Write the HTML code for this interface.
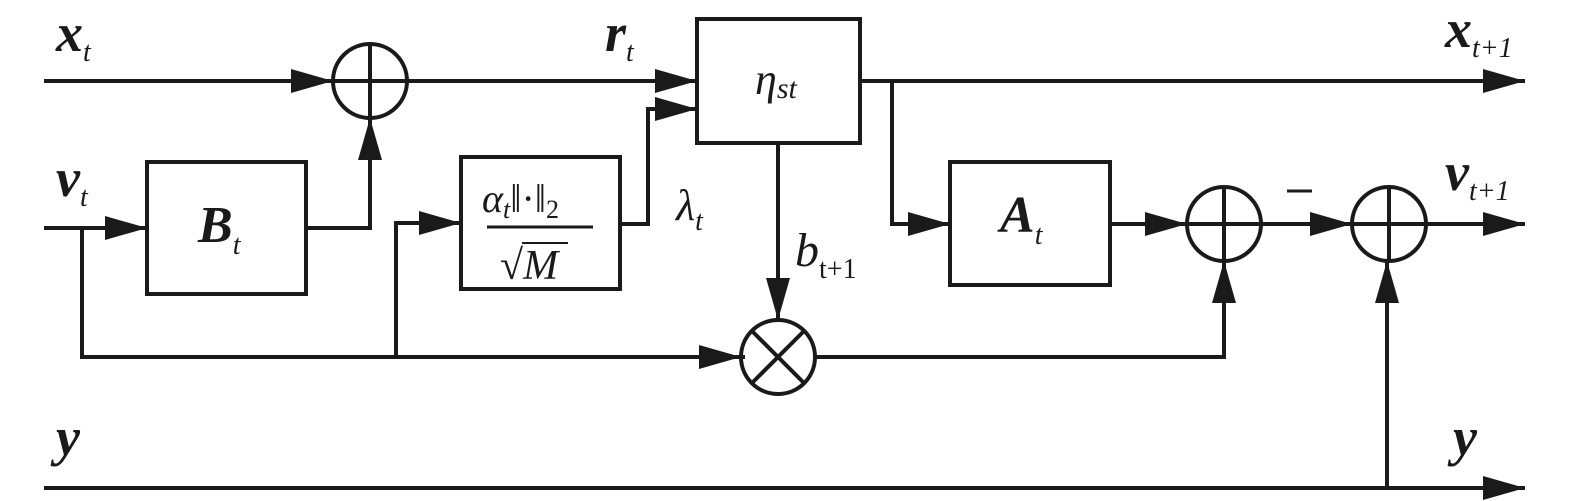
<!DOCTYPE html>
<html><head><meta charset="utf-8"><style>body{margin:0;background:#fff}svg{display:block}</style></head>
<body>
<svg width="1575" height="501" viewBox="0 0 1575 501" xmlns="http://www.w3.org/2000/svg">
<defs>
<marker id="a" markerWidth="42" markerHeight="24" refX="42" refY="12" orient="auto" markerUnits="userSpaceOnUse">
<path d="M0,0 L42,12 L0,24 Z" fill="#1a1a1a"/></marker>
</defs>
<g stroke="#1a1a1a" stroke-width="4" fill="none">
<!-- x line -->
<line x1="44" y1="81" x2="333" y2="81" marker-end="url(#a)"/>
<circle cx="370" cy="81" r="37"/>
<line x1="333" y1="81" x2="407" y2="81"/><line x1="370" y1="44" x2="370" y2="118"/>
<line x1="407" y1="81" x2="697" y2="81" marker-end="url(#a)"/>
<rect x="697" y="19" width="163" height="124"/>
<line x1="860" y1="81" x2="1525" y2="81" marker-end="url(#a)"/>
<!-- v line -->
<line x1="44" y1="228" x2="147" y2="228" marker-end="url(#a)"/>
<rect x="147" y="162" width="159" height="132"/>
<polyline points="306,228 370,228 370,118"/>
<line x1="370" y1="160" x2="370" y2="118" marker-end="url(#a)"/>
<polyline points="82,228 82,357 745,357"/>
<line x1="700" y1="357" x2="741" y2="357" marker-end="url(#a)"/>
<polyline points="396,357 396,223 461,223"/>
<line x1="420" y1="223" x2="461" y2="223" marker-end="url(#a)"/>
<rect x="461" y="157" width="159" height="132"/>
<polyline points="620,224 648,224 648,109 697,109"/>
<line x1="655" y1="109" x2="697" y2="109" marker-end="url(#a)"/>
<!-- eta down -->
<line x1="778" y1="143" x2="778" y2="320" marker-end="url(#a)"/>
<circle cx="778" cy="357" r="37"/>
<line x1="752" y1="331" x2="804" y2="383"/><line x1="804" y1="331" x2="752" y2="383"/>
<polyline points="815,357 1224,357 1224,261"/>
<line x1="1224" y1="305" x2="1224" y2="261" marker-end="url(#a)"/>
<!-- A branch -->
<polyline points="892,81 892,224 950,224"/>
<line x1="908" y1="224" x2="950" y2="224" marker-end="url(#a)"/>
<rect x="950" y="162" width="160" height="123"/>
<line x1="1110" y1="224" x2="1187" y2="224" marker-end="url(#a)"/>
<circle cx="1224" cy="224" r="37"/>
<line x1="1187" y1="224" x2="1261" y2="224"/><line x1="1224" y1="187" x2="1224" y2="261"/>
<line x1="1261" y1="224" x2="1352" y2="224" marker-end="url(#a)"/>
<circle cx="1389" cy="224" r="37"/>
<line x1="1352" y1="224" x2="1426" y2="224"/><line x1="1389" y1="187" x2="1389" y2="261"/>
<line x1="1426" y1="224" x2="1525" y2="224" marker-end="url(#a)"/>
<!-- y line -->
<line x1="44" y1="488" x2="1525" y2="488" marker-end="url(#a)"/>
<line x1="1387" y1="488" x2="1387" y2="261" marker-end="url(#a)"/>
<line x1="1287" y1="191" x2="1312" y2="191" stroke-width="3"/>
<!-- frac line -->
<line x1="487" y1="227" x2="593" y2="227" stroke-width="3"/>
</g>
<g font-family="Liberation Serif, serif" fill="#1a1a1a" font-style="italic">
<text x="56" y="51" font-size="54" font-weight="bold">x<tspan font-size="28" font-weight="normal" dy="10">t</tspan></text>
<text x="56" y="196" font-size="54" font-weight="bold">v<tspan font-size="28" font-weight="normal" dy="10">t</tspan></text>
<text x="56" y="455" font-size="54" font-weight="bold">y</text>
<text x="605" y="51" font-size="54" font-weight="bold">r<tspan font-size="28" font-weight="normal" dy="10">t</tspan></text>
<text x="755" y="94" font-size="44">η<tspan font-size="30" dy="4">st</tspan></text>
<text x="198" y="242" font-size="52" font-weight="bold">B<tspan font-size="28" font-weight="normal" dy="12">t</tspan></text>
<text x="1000" y="232" font-size="52" font-weight="bold">A<tspan font-size="28" font-weight="normal" dy="12">t</tspan></text>
<text x="676" y="220" font-size="44">λ<tspan font-size="28" dy="10">t</tspan></text>
<text x="795" y="266" font-size="48">b<tspan font-size="28" font-style="normal" dy="12">t+1</tspan></text>
<text x="1445" y="47" font-size="54" font-weight="bold">x<tspan font-size="28" font-weight="normal" dy="10">t+1</tspan></text>
<text x="1445" y="190" font-size="54" font-weight="bold">v<tspan font-size="28" font-weight="normal" dy="10">t+1</tspan></text>
<text x="1453" y="455" font-size="54" font-weight="bold">y</text>
<text x="482" y="212" font-size="40">α<tspan font-size="26" dy="6">t</tspan><tspan font-style="normal" dy="-6">‖·‖</tspan><tspan font-style="normal" font-size="26" dy="6">2</tspan></text>
<text x="500" y="279" font-size="42"><tspan font-style="normal">√</tspan>M</text>
</g>
<line x1="522" y1="243" x2="568" y2="243" stroke="#1a1a1a" stroke-width="2"/>
</svg>
</body></html>
